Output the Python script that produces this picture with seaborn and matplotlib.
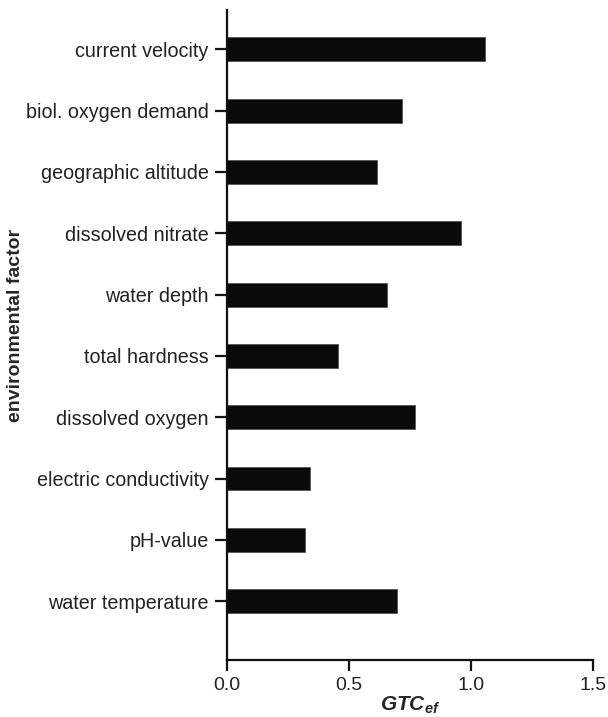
import pandas as pd
import seaborn as sns
import matplotlib.pyplot as plt

# Data
factors = ["current velocity", "biol. oxygen demand", "geographic altitude",
           "dissolved nitrate", "water depth", "total hardness",
           "dissolved oxygen", "electric conductivity", "pH-value",
           "water temperature"]
gtc = [1.056, 0.716, 0.616, 0.957, 0.657, 0.457, 0.770, 0.341, 0.322, 0.698]

df = pd.DataFrame({"factor": factors, "GTC": gtc})

sns.set_style("ticks")
plt.rcParams['font.family'] = ['Liberation Sans', 'DejaVu Sans']
plt.rcParams['mathtext.fontset'] = 'custom'
plt.rcParams['mathtext.it'] = 'Liberation Sans:italic:bold'
plt.rcParams['mathtext.rm'] = 'Liberation Sans:bold'

fig = plt.figure(figsize=(6.08, 7.17), dpi=100)
ax = fig.add_axes([0.373, 0.0795, 0.603, 0.9065])

sns.barplot(data=df, x="GTC", y="factor", orient="h", color="#0a0a0a",
            width=0.39, edgecolor="#555555", linewidth=0.6, saturation=1, ax=ax)

ax.set_xlim(0, 1.5)
ax.set_ylim(9.96, -0.64)
ax.set_xticks([0.0, 0.5, 1.0, 1.5])
ax.set_xticklabels(["0.0", "0.5", "1.0", "1.5"])

ax.set_xlabel(r"$GTC_{ef}$", fontsize=15, labelpad=1)
ax.set_ylabel("environmental factor", fontsize=14, fontweight="bold")
ax.yaxis.set_label_coords(-0.553, 0.515)

for side in ["top", "right"]:
    ax.spines[side].set_visible(False)
for side in ["left", "bottom"]:
    ax.spines[side].set_linewidth(1.6)
    ax.spines[side].set_color("#111111")

ax.tick_params(axis="y", length=9, width=1.6, labelsize=14.2, pad=4, colors="#111111")
ax.tick_params(axis="x", length=8, width=1.6, labelsize=14, pad=4, colors="#111111")
for lbl in ax.get_xticklabels() + ax.get_yticklabels():
    lbl.set_color("#222222")

fig.savefig("out.png", dpi=100)
